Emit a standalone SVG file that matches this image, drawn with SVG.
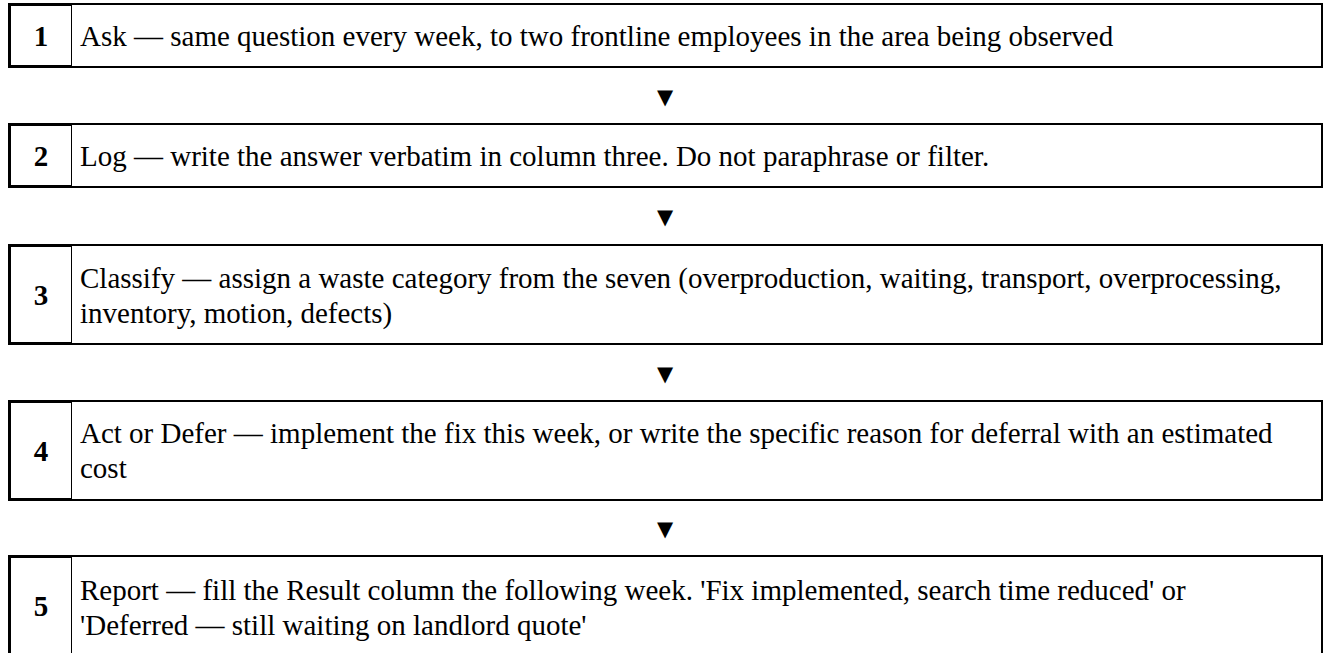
<svg xmlns="http://www.w3.org/2000/svg" width="1324" height="653" viewBox="0 0 1324 653">
<style>
.box{fill:#fff;stroke:#000;stroke-width:2}
.num{fill:#fff;stroke:#000;stroke-width:1}
.t{font-family:"Liberation Serif",serif;font-size:29px;fill:#000}
.n{font-family:"Liberation Serif",serif;font-size:29px;font-weight:bold;fill:#000;text-anchor:middle}
.arr{font-family:"DejaVu Sans",sans-serif;font-size:21px;fill:#000;text-anchor:middle}
</style>
<rect width="1324" height="653" fill="#fff"/>
<g id="connectors">
<text class="arr" x="665" y="104">▼</text>
<text class="arr" x="665" y="224">▼</text>
<text class="arr" x="665" y="381">▼</text>
<text class="arr" x="665" y="536">▼</text>
</g>
<g id="step1">
<rect class="box" x="9" y="4" width="1313" height="63"/>
<rect class="num" x="10.5" y="5.5" width="61" height="60"/>
<text class="n" x="41" y="46">1</text>
<text class="t" x="80" y="46">Ask — same question every week, to two frontline employees in the area being observed</text>
</g>
<g id="step2">
<rect class="box" x="9" y="124" width="1313" height="63"/>
<rect class="num" x="10.5" y="125.5" width="61" height="60"/>
<text class="n" x="41" y="166">2</text>
<text class="t" x="80" y="166">Log — write the answer verbatim in column three. Do not paraphrase or filter.</text>
</g>
<g id="step3">
<rect class="box" x="9" y="245" width="1313" height="99"/>
<rect class="num" x="10.5" y="246.5" width="61" height="96"/>
<text class="n" x="41" y="305">3</text>
<text class="t" x="80" y="288">Classify — assign a waste category from the seven (overproduction, waiting, transport, overprocessing,</text>
<text class="t" x="80" y="323">inventory, motion, defects)</text>
</g>
<g id="step4">
<rect class="box" x="9" y="401" width="1313" height="99"/>
<rect class="num" x="10.5" y="402.5" width="61" height="96"/>
<text class="n" x="41" y="461">4</text>
<text class="t" x="80" y="443">Act or Defer — implement the fix this week, or write the specific reason for deferral with an estimated</text>
<text class="t" x="80" y="478">cost</text>
</g>
<g id="step5">
<rect class="box" x="9" y="556" width="1313" height="99"/>
<rect class="num" x="10.5" y="557.5" width="61" height="96"/>
<text class="n" x="41" y="616">5</text>
<text class="t" x="80" y="600">Report — fill the Result column the following week. 'Fix implemented, search time reduced' or</text>
<text class="t" x="80" y="635">'Deferred — still waiting on landlord quote'</text>
</g>
</svg>
